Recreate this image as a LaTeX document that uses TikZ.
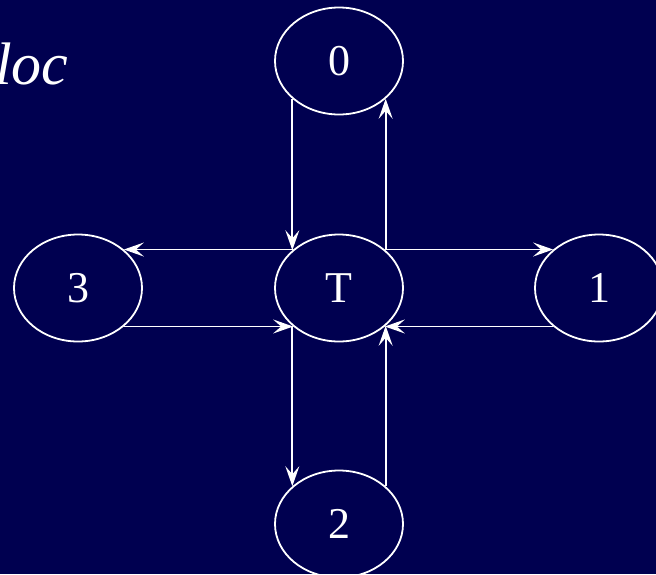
\documentclass[tikz,border=0pt]{standalone}
\usepackage{fontspec}
\setmainfont{Liberation Serif}
\usetikzlibrary{arrows.meta, shapes.geometric}
\definecolor{fondnuit}{RGB}{0,0,80}
\begin{document}
\begin{tikzpicture}[x=1pt, y=-1pt,
    etat/.style={ellipse, draw=white, line width=1.8pt, minimum width=128pt, minimum height=107pt, inner sep=0pt, text=white, font=\fontsize{44}{48}\selectfont},
    arr/.style={-{Stealth[length=20pt, width=14pt, inset=8pt]}, line width=1.7pt, white}
]
    % Fond
    \fill[fondnuit] (0,0) rectangle (656,574);
    \useasboundingbox (0,0) rectangle (656,574);

    % Etats
    \node[etat] (T) at (339,288) {T};
    \node[etat] (haut) at (339,61) {0};
    \node[etat] (droite) at (599,288) {1};
    \node[etat] (bas) at (339,524) {2};
    \node[etat] (gauche) at (78,288) {3};

    % Titre
    \node[anchor=base west, inner sep=0pt, text=white, font=\fontsize{60}{64}\selectfont\itshape] (titre) at (-5,84) {loc};

    % Fl\`eches verticales
    \draw[arr] (haut.219) -- (T.141);
    \draw[arr] (T.39) -- (haut.321);
    \draw[arr] (T.219) -- (bas.141);
    \draw[arr] (bas.39) -- (T.321);

    % Fl\`eches horizontales
    \draw[arr] (T.140) -- (gauche.40);
    \draw[arr] (gauche.-40) -- (T.220);
    \draw[arr] (T.40) -- (droite.140);
    \draw[arr] (droite.220) -- (T.-40);
\end{tikzpicture}
\end{document}
